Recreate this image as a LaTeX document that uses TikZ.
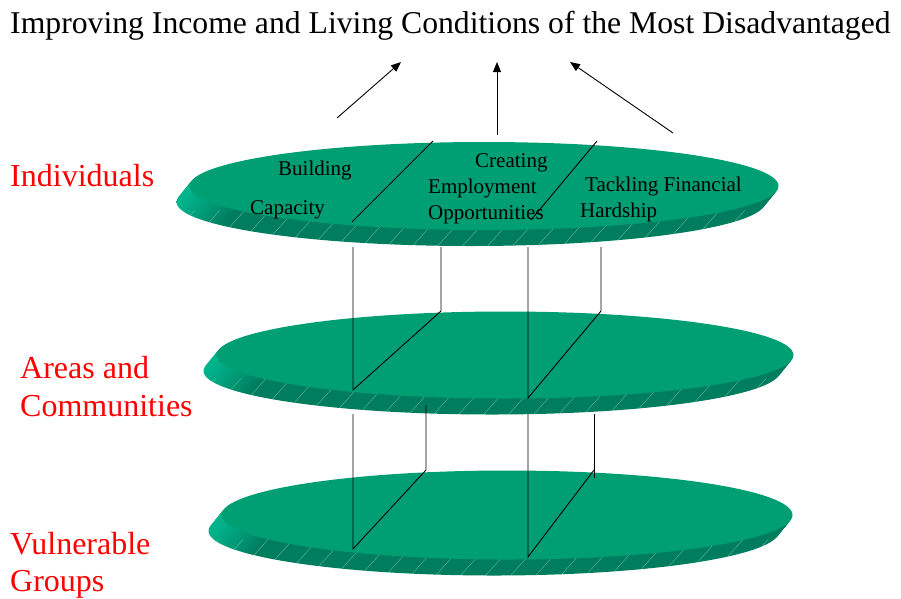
\documentclass[tikz,border=0pt]{standalone}
\usepackage{fontspec}
\setmainfont{Liberation Serif}
\usetikzlibrary{arrows.meta, positioning, shapes.geometric}
\definecolor{facegreen}{RGB}{0,158,115}
\definecolor{rimdark}{RGB}{0,124,94}
\definecolor{rimlight}{RGB}{0,180,140}
\definecolor{hatchgreen}{RGB}{120,200,175}
\pgfdeclarehorizontalshading{rimshade}{100bp}{color(0bp)=(rimlight); color(25bp)=(rimlight); color(29bp)=(rimdark); color(100bp)=(rimdark)}
\tikzset{%
	disc/.style={ellipse, inner sep=0pt, fill=facegreen},
	rim/.style={ellipse, inner sep=0pt, shading=rimshade},
	hatch/.style={hatchgreen, line width=0.4pt, opacity=0.8},
	layer/.style={anchor=base west, inner sep=0pt, text=red, font=\fontsize{32}{38}\selectfont},
	task/.style={anchor=base west, inner sep=0pt, font=\fontsize{21}{25}\selectfont},
	connector/.style={line width=0.9pt},
	sel/.style={-{Triangle[length=10pt,width=8pt]}, line width=0.9pt}
}
\begin{document}
\begin{tikzpicture}[x=1pt, y=-1pt]
	\useasboundingbox (0,0) rectangle (901,598);
	% the three discs
	\foreach \n/\cx/\cy/\w/\h in {ind/484/186/589/88, area/505/355/577/87, vul/507/515/571/89} {
		\foreach \t in {10,9,...,1}
			\node[rim, minimum width=\w pt, minimum height=\h pt] at (\cx-1.3*\t, \cy+1.6*\t) {};
		\begin{scope}
			\clip (\cx-13, \cy+16) ellipse ({\w/2} and {\h/2});
			\foreach \x in {-325,-300,...,325}
				\draw[hatch] (\cx+\x, \cy+\h/2+20) -- ++(36,-40);
		\end{scope}
		\node[disc, minimum width=\w pt, minimum height=\h pt] (\n) at (\cx,\cy) {};
	}

	\node[anchor=base west, inner sep=0pt, font=\fontsize{31.7}{38}\selectfont] (goal) at (10,33)
		{Improving Income and Living Conditions of the Most Disadvantaged};

	\node[layer] (ind-l) at (10,186) {Individuals};
	\node[layer] (area-l) at (20,378) {Areas and};
	\node[layer] (area-l2) at (20,416) {Communities};
	\node[layer] (vul-l) at (10,554) {Vulnerable};
	\node[layer] (vul-l2) at (10,591) {Groups};

	\node[task] (build) at (278,175) {Building};
	\node[task] (cap) at (250,214) {Capacity};
	\node[task] (create) at (475,167) {Creating};
	\node[task] (employ) at (428,193) {Employment};
	\node[task] (opp) at (428,219) {Opportunities};
	\node[task] (tackle) at (585,191) {Tackling Financial};
	\node[task] (hard) at (580,217) {Hardship};

	% dividers on the top disc
	\coordinate (ind-s1) at (433,141);
	\coordinate (ind-e1) at (352,222);
	\coordinate (ind-s2) at (597,141);
	\coordinate (ind-e2) at (531,220);
	\draw[connector] (ind-s1) -- (ind-e1);
	\draw[connector] (ind-s2) -- (ind-e2);

	% links down to the areas disc
	\coordinate (a-1) at (353,247);
	\coordinate (a-2) at (353,390);
	\coordinate (a-3) at (441,311);
	\coordinate (a-4) at (441,247);
	\coordinate (b-1) at (528,247);
	\coordinate (b-2) at (528,398);
	\coordinate (b-3) at (601,311);
	\coordinate (b-4) at (601,247);
	\draw[connector] (a-1) -- (a-2) -- (a-3) -- (a-4);
	\draw[connector] (b-1) -- (b-2) -- (b-3) -- (b-4);

	% links down to the vulnerable groups disc
	\coordinate (c-1) at (353,414);
	\coordinate (c-2) at (353,549);
	\coordinate (c-3) at (426,470);
	\coordinate (c-4) at (426,405);
	\coordinate (d-1) at (528,414);
	\coordinate (d-2) at (528,557);
	\coordinate (d-3) at (594,470);
	\coordinate (d-4) at (594,414);
	\coordinate (d-5) at (594,478);
	\draw[connector] (c-1) -- (c-2) -- (c-3) -- (c-4);
	\draw[connector] (d-1) -- (d-2) -- (d-3);
	\draw[connector] (d-4) -- (d-5);

	% arrows up to the goal
	\coordinate (g-l) at (337,118);
	\coordinate (h-l) at (401,62);
	\coordinate (g-m) at (497,135);
	\coordinate (h-m) at (497,62);
	\coordinate (g-r) at (673,133);
	\coordinate (h-r) at (570,62);
	\draw[sel] (g-l) -- (h-l);
	\draw[sel] (g-m) -- (h-m);
	\draw[sel] (g-r) -- (h-r);
\end{tikzpicture}
\end{document}
